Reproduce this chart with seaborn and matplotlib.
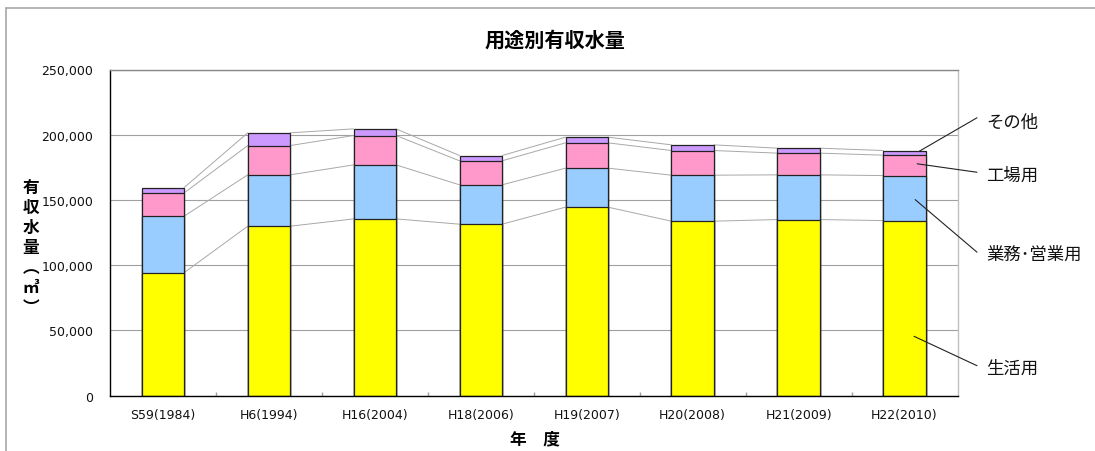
import matplotlib
matplotlib.use("Agg")
import matplotlib.pyplot as plt
import seaborn as sns
import numpy as np
from matplotlib.lines import Line2D
from matplotlib.ticker import FuncFormatter, FixedLocator

# ---- data ----
years = ["S59(1984)", "H6(1994)", "H16(2004)", "H18(2006)",
         "H19(2007)", "H20(2008)", "H21(2009)", "H22(2010)"]
seikatsu = [94300, 129900, 135500, 131450, 144500, 133750, 135000, 134200]
gyomu = [43300, 39350, 41400, 30150, 29900, 35250, 34250, 34500]
kojo = [17850, 22450, 22500, 18400, 19400, 18900, 16650, 15650]
sonota = [4100, 9750, 5100, 4050, 4350, 4350, 3800, 3550]
series_names = ["生活用", "業務･営業用", "工場用", "その他"]
colors = ["#FFFF00", "#99CCFF", "#FF99CC", "#CC99FF"]

sns.set_theme(style="white")
plt.rcParams['font.family'] = ['Noto Sans CJK JP', 'DejaVu Sans']

W, H = 1095, 452
fig = plt.figure(figsize=(W / 100, H / 100), dpi=100)
ax = fig.add_axes([110 / W, (H - 396.7) / H, (957.5 - 110) / W, (396.7 - 70.5) / H])

layers = [np.array(seikatsu), np.array(gyomu), np.array(kojo), np.array(sonota)]
cum = np.cumsum(np.vstack(layers), axis=0)

# draw from tallest to shortest so segments stack
for k in range(3, -1, -1):
    sns.barplot(x=years, y=cum[k], order=years, color=colors[k], saturation=1,
                width=0.4, edgecolor="#222222", linewidth=0.9, ax=ax, zorder=3)

# series lines
bw = 0.2
for k in range(4):
    for i in range(len(years) - 1):
        ax.plot([i + bw, i + 1 - bw], [cum[k][i], cum[k][i + 1]],
                color="#A8A8A8", lw=0.7, zorder=2)

ax.set_xlim(-0.5, len(years) - 0.5)
ax.set_ylim(0, 250000)
ax.set_yticks(np.arange(0, 250001, 50000))
ax.yaxis.set_major_formatter(FuncFormatter(lambda v, p: f"{int(v):,}"))
ax.grid(axis="y", color="#A0A0A0", lw=0.8, zorder=0)
ax.set_axisbelow(True)
ax.set_xlabel("")
ax.set_ylabel("")

ax.tick_params(axis="y", length=0, pad=12, labelsize=9, labelcolor="#111111")
ax.tick_params(axis="x", which="major", length=0, pad=9, labelsize=9,
               labelcolor="#111111")
for lbl in ax.get_xticklabels() + ax.get_yticklabels():
    lbl.set_fontfamily("DejaVu Sans")
ax.xaxis.set_minor_locator(FixedLocator(np.arange(0.5, len(years) - 1, 1.0)))
ax.tick_params(axis="x", which="minor", direction="in", length=3,
               color="#A0A0A0", bottom=True)

for s in ["left", "bottom"]:
    ax.spines[s].set_color("black")
    ax.spines[s].set_linewidth(1.0)
ax.spines["top"].set_color("#888888")
ax.spines["top"].set_linewidth(1.0)
ax.spines["right"].set_color("#C0C0C0")
ax.spines["right"].set_linewidth(1.0)
for s in ax.spines.values():
    s.set_zorder(5)

# title
fig.text(555 / W, 1 - 40 / H, "用途別有収水量", ha="center", va="center",
         fontsize=14.5, fontweight="bold", color="black")
# x label
fig.text(535 / W, 1 - 439 / H, "年　度", ha="center", va="center",
         fontsize=12, fontweight="bold", color="black")
# y label (vertical writing)
fig.text(31 / W, 1 - 248 / H, "有\n収\n水\n量\n︵\n㎥\n︶", ha="center", va="center",
         fontsize=12, fontweight="bold", linespacing=1.15, color="black")

# leader labels
n = len(years) - 1
labels_info = [
    # name, data y, text y (axes frac), line end y (axes frac), x start
    (series_names[3], cum[3][n] - 500, 0.840, 0.852, n + 0.14),
    (series_names[2], (cum[1][n] + cum[2][n]) / 2 + 1200, 0.677, 0.685, n + 0.12),
    (series_names[1], 150300, 0.435, 0.440, n + 0.10),
    (series_names[0], 45500, 0.085, 0.092, n + 0.09),
]
for name, yv, ty, ly, xs in labels_info:
    ax.annotate("", xy=(xs, yv), xycoords="data",
                xytext=(1.023, ly), textcoords="axes fraction",
                arrowprops=dict(arrowstyle="-", color="#222222", lw=0.8,
                                shrinkA=0, shrinkB=0),
                annotation_clip=False, zorder=6)
    ax.text(1.034, ty, name, transform=ax.transAxes, ha="left", va="center",
            fontsize=12.5, color="#111111")

# outer frame (top and left)
fig.add_artist(Line2D([6 / W, 1.0], [1 - 9 / H, 1 - 9 / H], color="#A8A8A8",
                      lw=1.2, transform=fig.transFigure))
fig.add_artist(Line2D([6 / W, 6 / W], [0, 1 - 9 / H], color="#A8A8A8",
                      lw=1.2, transform=fig.transFigure))

fig.savefig("out.png", dpi=100)
